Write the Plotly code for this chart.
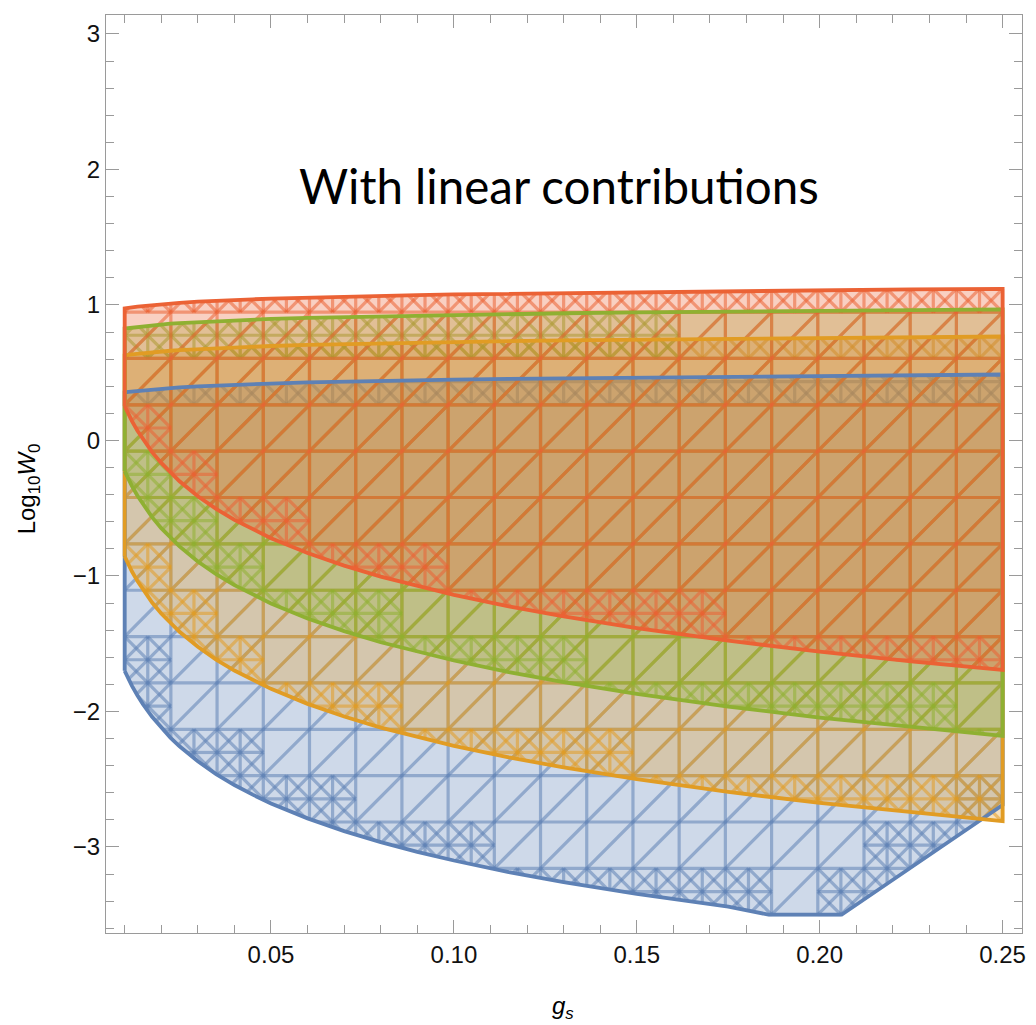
import numpy as np
import plotly.graph_objects as go

# ---------------- data ----------------
gs = [0.01, 0.011, 0.012, 0.0135, 0.015, 0.0175, 0.02, 0.0225, 0.025, 0.03, 0.035,
      0.04, 0.045, 0.05, 0.06, 0.07, 0.08, 0.09, 0.10, 0.115, 0.13, 0.15, 0.175,
      0.20, 0.225, 0.25]

red_upper = [0.974, 0.978, 0.982, 0.988, 0.992, 0.999, 1.005, 1.011, 1.015, 1.024, 1.031,
             1.037, 1.042, 1.047, 1.055, 1.062, 1.068, 1.073, 1.078, 1.084, 1.090, 1.096,
             1.103, 1.109, 1.115, 1.119]
red_lower = [0.253, 0.195, 0.143, 0.072, 0.008, -0.086, -0.166, -0.238, -0.301, -0.412, -0.505,
             -0.586, -0.657, -0.721, -0.831, -0.924, -1.005, -1.076, -1.140, -1.225, -1.299,
             -1.385, -1.478, -1.559, -1.631, -1.694]

green_upper = [0.826, 0.830, 0.834, 0.839, 0.844, 0.851, 0.856, 0.862, 0.866, 0.874, 0.881,
               0.887, 0.892, 0.897, 0.905, 0.911, 0.917, 0.922, 0.927, 0.933, 0.939, 0.945,
               0.952, 0.957, 0.963, 0.967]
green_lower = [-0.226, -0.284, -0.337, -0.408, -0.472, -0.566, -0.647, -0.718, -0.782, -0.893,
               -0.987, -1.068, -1.139, -1.203, -1.314, -1.407, -1.489, -1.560, -1.624, -1.709,
               -1.783, -1.870, -1.964, -2.045, -2.116, -2.180]

orange_upper = [0.627, 0.631, 0.635, 0.640, 0.645, 0.651, 0.657, 0.662, 0.667, 0.675, 0.681,
                0.687, 0.692, 0.697, 0.705, 0.712, 0.717, 0.722, 0.727, 0.733, 0.738, 0.745,
                0.751, 0.757, 0.762, 0.767]
orange_lower = [-0.856, -0.914, -0.967, -1.038, -1.102, -1.196, -1.277, -1.348, -1.412, -1.523,
                -1.617, -1.698, -1.769, -1.833, -1.944, -2.037, -2.119, -2.190, -2.254, -2.339,
                -2.413, -2.500, -2.594, -2.675, -2.746, -2.810]

blue_upper = [0.354, 0.358, 0.362, 0.366, 0.371, 0.377, 0.383, 0.387, 0.392, 0.399, 0.406,
              0.411, 0.416, 0.420, 0.428, 0.434, 0.440, 0.445, 0.449, 0.455, 0.460, 0.466,
              0.472, 0.478, 0.482, 0.487]
blue_lower_gs = [0.01, 0.011, 0.012, 0.0135, 0.015, 0.0175, 0.02, 0.0225, 0.025, 0.03, 0.035,
                 0.04, 0.045, 0.05, 0.06, 0.07, 0.08, 0.09, 0.10, 0.115, 0.13, 0.15, 0.175,
                 0.186, 0.206, 0.225, 0.25]
blue_lower = [-1.700, -1.758, -1.811, -1.882, -1.947, -2.040, -2.121, -2.193, -2.257, -2.368,
              -2.462, -2.543, -2.614, -2.679, -2.789, -2.883, -2.964, -3.036, -3.100, -3.185,
              -3.259, -3.347, -3.440, -3.500, -3.500, -3.150, -2.690]

x_ticks = [0.05, 0.10, 0.15, 0.20, 0.25]
x_tick_labels = ["0.05", "0.10", "0.15", "0.20", "0.25"]
y_ticks = [-3, -2, -1, 0, 1, 2, 3]

title_text = "With linear contributions"

# ---------------- styles ----------------
COLORS = {
    "blue": (94, 129, 181),
    "orange": (225, 156, 36),
    "green": (143, 176, 50),
    "red": (235, 98, 53),
}
regions = [
    ("blue", blue_lower_gs, blue_lower, gs, blue_upper),
    ("orange", gs, orange_lower, gs, orange_upper),
    ("green", gs, green_lower, gs, green_upper),
    ("red", gs, red_lower, gs, red_upper),
]

# sampling mesh of the region plot (domain of the original RegionPlot)
XG = np.linspace(0.01, 0.25, 20)
YG = np.linspace(-3.5, 3.0, 20)


def make_inside(xl, yl, xu, yu):
    xl = np.asarray(xl, float); yl = np.asarray(yl, float)
    xu = np.asarray(xu, float); yu = np.asarray(yu, float)

    def inside(x, y):
        x = np.asarray(x, float); y = np.asarray(y, float)
        lo = np.interp(x, xl, yl)
        hi = np.interp(x, xu, yu)
        return (x >= xl[0] - 1e-9) & (x <= xl[-1] + 1e-9) & (y >= lo - 1e-9) & (y <= hi + 1e-9)
    return inside


def mesh_segments(inside):
    n = len(XG) - 1
    S = 6
    state = np.zeros((n, n), int)
    for i in range(n):
        for j in range(n):
            xs = np.linspace(XG[i], XG[i + 1], S)
            ys = np.linspace(YG[j], YG[j + 1], S)
            X, Y = np.meshgrid(xs, ys)
            m = inside(X.ravel(), Y.ravel())
            state[i, j] = 0 if not m.any() else (1 if m.all() else 2)
    segs = set()
    for i in range(n):
        for j in range(n):
            if state[i, j] == 0:
                continue
            x0, x1, y0, y1 = XG[i], XG[i + 1], YG[j], YG[j + 1]
            segs.add((x0, y0, x1, y0)); segs.add((x0, y1, x1, y1))
            segs.add((x0, y0, x0, y1)); segs.add((x1, y0, x1, y1))
            if state[i, j] == 1:
                segs.add((x0, y0, x1, y1))
            else:
                xm, ym = (x0 + x1) / 2, (y0 + y1) / 2
                segs.add((xm, y0, xm, y1)); segs.add((x0, ym, x1, ym))
                for a0, a1 in ((x0, xm), (xm, x1)):
                    for b0, b1 in ((y0, ym), (ym, y1)):
                        segs.add((a0, b0, a1, b1)); segs.add((a0, b1, a1, b0))
    return segs


def clip(segs, inside, K=49):
    xs, ys = [], []
    t = np.linspace(0, 1, K)
    for (a, b, c, d) in segs:
        px = a + (c - a) * t
        py = b + (d - b) * t
        m = inside(px, py)
        if m.all():
            xs += [a, c, None]; ys += [b, d, None]
            continue
        if not m.any():
            continue
        k = 0
        while k < K:
            if m[k]:
                s = k
                while k < K and m[k]:
                    k += 1
                if k - 1 > s:
                    xs += [px[s], px[k - 1], None]; ys += [py[s], py[k - 1], None]
            else:
                k += 1
    return xs, ys


fig = go.Figure()

outlines = []
for name, xl, yl, xu, yu in regions:
    r, g, b = COLORS[name]
    px = list(xl) + list(xu)[::-1]
    py = list(yl) + list(yu)[::-1]
    fig.add_trace(go.Scatter(
        x=px, y=py, mode="lines", fill="toself",
        fillcolor=f"rgba({r},{g},{b},0.30)", line=dict(width=0),
        hoverinfo="skip", showlegend=False))
    inside = make_inside(xl, yl, xu, yu)
    mx, my = clip(mesh_segments(inside), inside)
    fig.add_trace(go.Scatter(
        x=mx, y=my, mode="lines", line=dict(color=f"rgba({r},{g},{b},0.55)", width=3.2),
        hoverinfo="skip", showlegend=False))
    outlines.append((px + [px[0]], py + [py[0]], f"rgb({r},{g},{b})"))

for ox, oy, col in outlines:
    fig.add_trace(go.Scatter(
        x=ox, y=oy, mode="lines", line=dict(color=col, width=3.8),
        hoverinfo="skip", showlegend=False))

axis_col = "#9a9a9a"
tick_font = dict(family="Liberation Sans, Arial, sans-serif", size=24, color="#111111")

fig.update_xaxes(
    range=[0.0049, 0.2553], tickvals=x_ticks, ticktext=x_tick_labels,
    ticks="inside", ticklen=13, tickwidth=1, tickcolor=axis_col,
    showline=True, linecolor=axis_col, linewidth=1, mirror="allticks",
    showgrid=False, zeroline=False, tickfont=tick_font,
    minor=dict(dtick=0.01, tick0=0, ticks="inside", ticklen=8, tickcolor=axis_col, showgrid=False),
)
fig.update_yaxes(
    range=[-3.635, 3.14], tickvals=y_ticks,
    ticks="inside", ticklen=13, tickwidth=1, tickcolor=axis_col,
    showline=True, linecolor=axis_col, linewidth=1, mirror="allticks",
    showgrid=False, zeroline=False, tickfont=tick_font,
    minor=dict(dtick=0.2, tick0=0, ticks="inside", ticklen=8, tickcolor=axis_col, showgrid=False),
)

fig.add_annotation(
    text=title_text, xref="paper", yref="paper", x=(561 - 106) / 920, y=(933 - 185) / 918,
    xanchor="center", yanchor="middle", showarrow=False,
    font=dict(family="Lato, sans-serif", size=47.5, color="black"))
fig.add_annotation(
    text="Log<sub>10</sub><i>W</i><sub>0</sub>", xref="paper", yref="paper",
    x=(29 - 106) / 920, y=(933 - 489) / 918, xanchor="center", yanchor="middle",
    textangle=-90, showarrow=False,
    font=dict(family="Liberation Sans, Arial, sans-serif", size=24, color="black"))
fig.add_annotation(
    text="<i>g</i><sub><i>s</i></sub>", xref="paper", yref="paper",
    x=(565 - 106) / 920, y=(933 - 1007) / 918, xanchor="center", yanchor="middle",
    showarrow=False,
    font=dict(family="Liberation Sans, Arial, sans-serif", size=24, color="black"))

fig.update_layout(
    width=1036, height=1025, margin=dict(l=106, r=10, t=15, b=92),
    plot_bgcolor="white", paper_bgcolor="white", showlegend=False,
)

fig.write_html("out.html", config={"displayModeBar": False},
               post_script="document.body.style.margin='0';document.body.style.overflow='hidden';")
